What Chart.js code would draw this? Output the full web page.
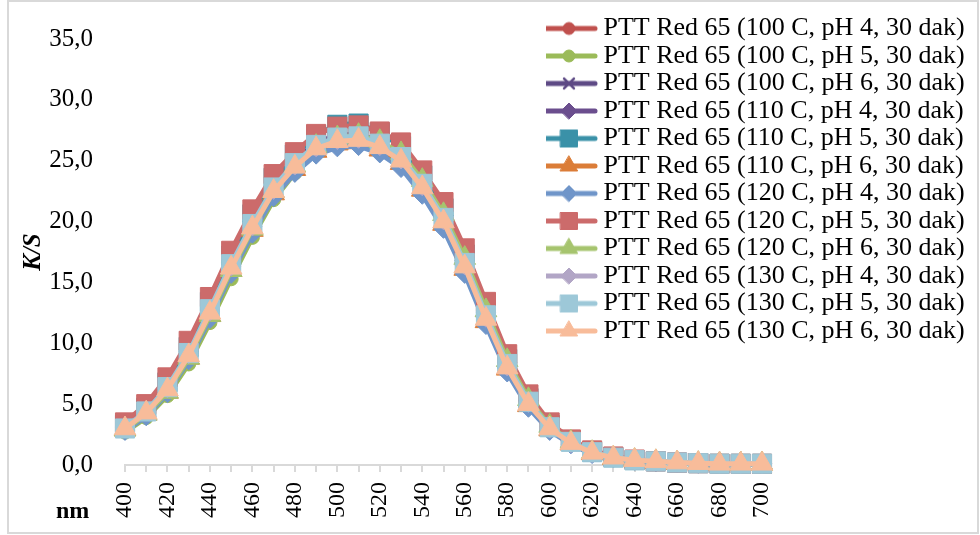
<!DOCTYPE html>
<html>
<head>
<meta charset="utf-8">
<title>PTT Red 65 K/S</title>
<script src="https://cdn.jsdelivr.net/npm/chart.js@4.4.1/dist/chart.umd.min.js"></script>
<style>
  html, body { margin: 0; padding: 0; background: #fff; }
  #wrap { position: relative; width: 980px; height: 535px; overflow: hidden; }
  #chart { position: absolute; left: 0; top: 0; }
  #frame { position: absolute; left: 7px; top: 0px; width: 968px; height: 530px; border: 2px solid #d9d9d9; pointer-events: none; }
  #nm { position: absolute; left: 56px; top: 497px; font: bold 24px "Liberation Serif", serif; line-height: 26px; color: #000; }
</style>
</head>
<body>
<div id="wrap">
  <canvas id="chart" width="980" height="535"></canvas>
  <div id="frame"></div>
  <div id="nm">nm</div>
</div>
<script>
// ── Data ─────────────────────────────────────────────────────────
const wavelengths = [400, 410, 420, 430, 440, 450, 460, 470, 480, 490, 500, 510, 520, 530, 540, 550,
  560, 570, 580, 590, 600, 610, 620, 630, 640, 650, 660, 670, 680, 690, 700];

const ks100pH4 = [3.1, 4.4, 6.3, 9.1, 12.7, 16.4, 19.8, 22.8, 24.8, 26.3, 26.9, 27.0, 26.4, 25.3, 23.1, 20.3,
  16.6, 12.3, 8.2, 5.1, 3.1, 1.85, 1.0, 0.6, 0.4, 0.3, 0.2, 0.15, 0.1, 0.1, 0.1];
const ks100pH5 = [2.7, 3.9, 5.7, 8.3, 11.7, 15.3, 18.7, 21.8, 24.0, 25.7, 26.5, 26.8, 26.4, 25.5, 23.5, 20.8,
  17.2, 12.9, 8.7, 5.4, 3.2, 1.9, 1.0, 0.6, 0.4, 0.3, 0.2, 0.15, 0.1, 0.1, 0.1];
const ks100pH6 = [3.0, 4.3, 6.2, 9.1, 12.6, 16.3, 19.7, 22.7, 24.7, 26.2, 26.8, 26.9, 26.3, 25.2, 23.0, 20.2,
  16.5, 12.2, 8.1, 5.1, 3.0, 1.8, 1.0, 0.6, 0.4, 0.3, 0.2, 0.15, 0.1, 0.1, 0.1];
const ks110pH4 = [3.2, 4.5, 6.5, 9.3, 12.9, 16.6, 20.0, 23.0, 25.0, 26.5, 27.1, 27.2, 26.6, 25.5, 23.3, 20.5,
  16.8, 12.5, 8.4, 5.3, 3.2, 1.9, 1.05, 0.65, 0.4, 0.3, 0.2, 0.15, 0.1, 0.1, 0.1];
const ks110pH5 = [3.3, 4.7, 6.8, 9.7, 13.4, 17.2, 20.6, 23.6, 25.5, 27.1, 27.95, 28.05, 27.3, 26.2, 23.8, 21.1,
  17.3, 12.9, 8.7, 5.5, 3.3, 2.0, 1.1, 0.65, 0.4, 0.3, 0.2, 0.15, 0.1, 0.1, 0.1];
const ks110pH6 = [2.9, 4.2, 6.0, 8.8, 12.3, 16.0, 19.3, 22.3, 24.3, 25.8, 26.4, 26.5, 25.9, 24.8, 22.6, 19.8,
  16.1, 11.8, 7.9, 4.9, 2.9, 1.75, 0.95, 0.55, 0.35, 0.25, 0.15, 0.1, 0.1, 0.1, 0.1];
const ks120pH4 = [2.8, 4.0, 5.9, 8.6, 12.0, 15.7, 19.0, 22.0, 24.0, 25.5, 26.1, 26.2, 25.6, 24.4, 22.2, 19.4,
  15.7, 11.5, 7.6, 4.7, 2.8, 1.7, 0.9, 0.55, 0.35, 0.25, 0.15, 0.1, 0.1, 0.1, 0.1];
const ks120pH5 = [3.5, 5.0, 7.2, 10.2, 13.8, 17.6, 21.0, 23.9, 25.7, 27.2, 27.8, 27.9, 27.4, 26.5, 24.2, 21.6,
  17.8, 13.4, 9.1, 5.8, 3.5, 2.1, 1.2, 0.7, 0.45, 0.3, 0.2, 0.15, 0.1, 0.1, 0.1];
const ks120pH6 = [2.9, 4.2, 6.0, 8.8, 12.3, 16.0, 19.4, 22.5, 24.6, 26.2, 26.9, 27.1, 26.6, 25.6, 23.4, 20.6,
  17.0, 12.7, 8.6, 5.4, 3.2, 1.9, 1.05, 0.6, 0.4, 0.3, 0.2, 0.15, 0.1, 0.1, 0.1];
const ks130pH4 = [3.1, 4.4, 6.3, 9.1, 12.6, 16.3, 19.6, 22.6, 24.6, 26.1, 26.7, 26.8, 26.2, 25.1, 22.9, 20.1,
  16.4, 12.1, 8.1, 5.1, 3.0, 1.8, 1.0, 0.6, 0.4, 0.3, 0.2, 0.15, 0.1, 0.1, 0.1];
const ks130pH5 = [3.0, 4.4, 6.4, 9.2, 12.8, 16.5, 19.8, 22.8, 24.8, 26.3, 26.9, 27.0, 26.4, 25.3, 23.1, 20.3,
  16.6, 12.3, 8.3, 5.2, 3.1, 1.9, 1.05, 0.6, 0.4, 0.3, 0.2, 0.15, 0.1, 0.1, 0.1];
const ks130pH6 = [3.0, 4.3, 6.2, 9.0, 12.5, 16.2, 19.5, 22.5, 24.5, 26.0, 26.6, 26.7, 26.1, 25.0, 22.8, 20.0,
  16.3, 12.0, 8.0, 5.0, 3.0, 1.8, 1.0, 0.6, 0.4, 0.3, 0.2, 0.15, 0.1, 0.1, 0.1];

const yTicks = [0, 5, 10, 15, 20, 25, 30, 35];

const seriesLabels = [
  "PTT Red 65 (100 C, pH 4, 30 dak)", "PTT Red 65 (100 C, pH 5, 30 dak)", "PTT Red 65 (100 C, pH 6, 30 dak)",
  "PTT Red 65 (110 C, pH 4, 30 dak)", "PTT Red 65 (110 C, pH 5, 30 dak)", "PTT Red 65 (110 C, pH 6, 30 dak)",
  "PTT Red 65 (120 C, pH 4, 30 dak)", "PTT Red 65 (120 C, pH 5, 30 dak)", "PTT Red 65 (120 C, pH 6, 30 dak)",
  "PTT Red 65 (130 C, pH 4, 30 dak)", "PTT Red 65 (130 C, pH 5, 30 dak)", "PTT Red 65 (130 C, pH 6, 30 dak)",
];
const seriesValues = [ks100pH4, ks100pH5, ks100pH6, ks110pH4, ks110pH5, ks110pH6,
  ks120pH4, ks120pH5, ks120pH6, ks130pH4, ks130pH5, ks130pH6];

// ── Styles ───────────────────────────────────────────────────────
const seriesColors = ["#C0504D", "#9BBB59", "#5E4A85", "#6B4E8E", "#3A91A8", "#DB7D38",
  "#6F95C9", "#CC6B6B", "#A6C46E", "#B2A6C6", "#9DC8D8", "#F8BC9A"];
const seriesMarkers = ["circle", "circle", "crossRot", "rectRot", "rect", "triangle",
  "rectRot", "rect", "triangle", "rectRot", "rect", "triangle"];
const markerRadius = { circle: 7, crossRot: 8, rectRot: 9.5, rect: 13.5, triangle: 12.5 };
const legendRadius = { circle: 6, crossRot: 7, rectRot: 8, rect: 12, triangle: 10 };
const FONT = '"Liberation Serif", "Times New Roman", serif';

// ── Legend icons: thick line with marker in the middle ───────────
function makeLegendIcon(color, style) {
  const c = document.createElement("canvas");
  c.width = 58; c.height = 26;
  const g = c.getContext("2d");
  g.strokeStyle = color; g.fillStyle = color;
  g.lineWidth = 5; g.lineCap = "round";
  g.beginPath(); g.moveTo(3, 13); g.lineTo(55, 13); g.stroke();
  g.lineWidth = style === "crossRot" ? 2.5 : 1;
  Chart.helpers.drawPoint(g, { pointStyle: style, radius: legendRadius[style], rotation: 0, borderWidth: 1 }, 29, 13);
  return c;
}
const legendIcons = seriesColors.map((c, i) => makeLegendIcon(c, seriesMarkers[i]));

const datasets = seriesValues.map((vals, i) => ({
  label: seriesLabels[i],
  data: vals,
  borderColor: seriesColors[i],
  backgroundColor: seriesColors[i],
  borderWidth: 5,
  tension: 0,
  pointStyle: seriesMarkers[i],
  pointRadius: markerRadius[seriesMarkers[i]],
  pointBorderWidth: seriesMarkers[i] === "crossRot" ? 2.5 : 1,
  pointHoverRadius: markerRadius[seriesMarkers[i]],
  order: seriesValues.length - i,   // later series drawn on top
  clip: false,
}));

// ── Put the legend box where Excel had it (overlapping plot top-right)
const legendPlacer = {
  id: "legendPlacer",
  afterLayout(chart) {
    const lg = chart.legend;
    if (!lg) return;
    const w = lg.width, h = lg.height;
    lg.left = 546; lg.top = 14;
    lg.right = lg.left + w; lg.bottom = lg.top + h;
  },
};

Chart.defaults.color = "#000";
Chart.defaults.font.family = FONT;

new Chart(document.getElementById("chart"), {
  type: "line",
  data: { labels: wavelengths, datasets },
  plugins: [legendPlacer],
  options: {
    responsive: false,
    animation: false,
    events: [],
    layout: { padding: { left: 7, top: 32, right: 218, bottom: 10 } },
    scales: {
      x: {
        type: "category",
        offset: false,
        afterFit(scale) { scale.height = 60; },
        border: { display: true, color: "#d9d9d9", width: 2 },
        grid: { display: true, drawOnChartArea: false, drawTicks: true, tickLength: 7, color: "#d9d9d9", lineWidth: 2 },
        ticks: {
          autoSkip: false, minRotation: 90, maxRotation: 90, padding: 10,
          font: { size: 24, family: FONT },
          callback(v, i) { return i % 2 === 0 ? String(wavelengths[i]) : ""; },
        },
      },
      y: {
        min: 0, max: 35,
        afterFit(scale) { scale.width = 118; },
        afterBuildTicks(scale) { scale.ticks = yTicks.map(v => ({ value: v })); },
        border: { display: false },
        grid: { display: false },
        ticks: {
          padding: 24,
          font: { size: 25, family: FONT },
          callback(v) { return v.toFixed(1).replace(".", ","); },
        },
        title: {
          display: true, text: "K/S", padding: { top: 12, bottom: 0 },
          font: { size: 25, family: FONT, weight: "bold", style: "italic" },
        },
      },
    },
    plugins: {
      tooltip: { enabled: false },
      legend: {
        position: "chartArea",
        align: "start",
        labels: {
          usePointStyle: true,
          pointStyleWidth: 43,
          padding: 1.5,
          color: "#000",
          font: { size: 26, family: FONT },
          generateLabels(chart) {
            return chart.data.datasets.map((ds, i) => ({
              text: ds.label, datasetIndex: i, pointStyle: legendIcons[i],
              fillStyle: ds.borderColor, strokeStyle: ds.borderColor, lineWidth: 0, hidden: false,
            }));
          },
        },
      },
    },
  },
});
</script>
</body>
</html>
